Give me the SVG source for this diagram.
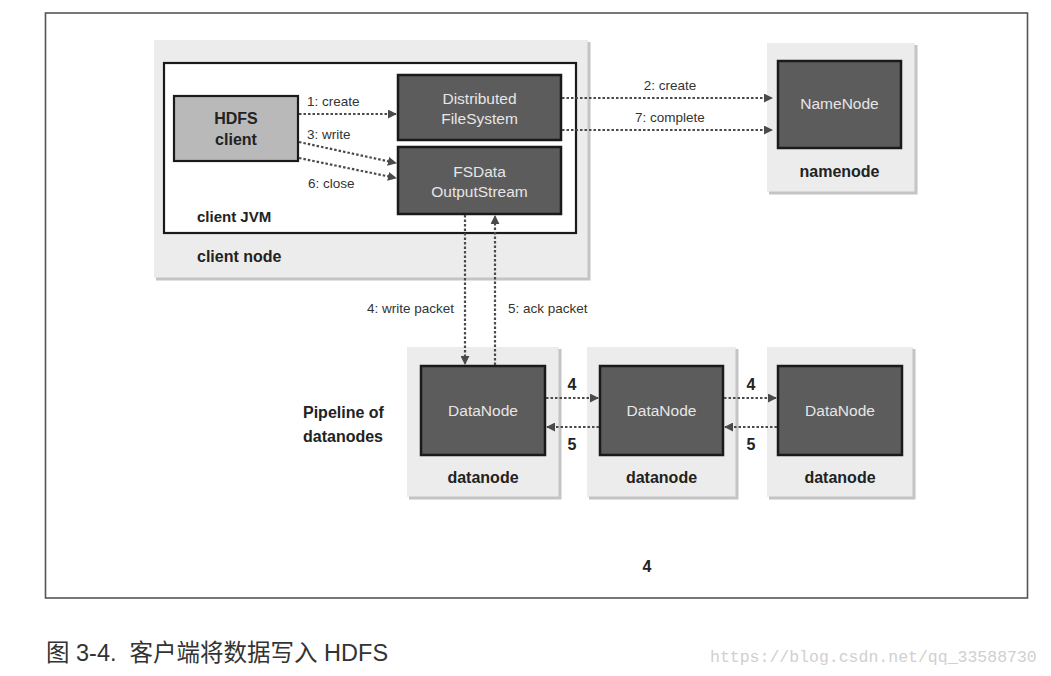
<svg xmlns="http://www.w3.org/2000/svg" width="1051" height="676" viewBox="0 0 1051 676">
<style>
.bg{fill:#ececec;stroke:none}
.sh{fill:none;stroke:#c4c4c4;stroke-width:3}
.dark{fill:#5c5c5c;stroke:#1a1a1a;stroke-width:2.5}
.wt{font-family:"Liberation Sans",Arial,sans-serif;font-size:15.5px;fill:#e6e6e6;text-anchor:middle}
.lb{font-family:"Liberation Sans",Arial,sans-serif;font-size:16px;fill:#222;font-weight:bold}
.lt{font-family:"Liberation Sans",Arial,sans-serif;font-size:13.5px;fill:#333}
.ln{fill:none;stroke:#4a4a4a;stroke-width:2.2;stroke-dasharray:2.5 2}
</style>
<defs>
<marker id="ah" viewBox="0 0 10 10" refX="9" refY="5" markerWidth="9" markerHeight="9" markerUnits="userSpaceOnUse" orient="auto">
<path d="M0,0 L10,5 L0,10 z" fill="#4a4a4a"/>
</marker>
</defs>
<rect x="0" y="0" width="1051" height="676" fill="#ffffff"/>
<rect x="45.5" y="13" width="982" height="585" fill="none" stroke="#555" stroke-width="1.6"/>

<g id="client-node">
<rect class="bg" x="154" y="40" width="434" height="238"/>
<path class="sh" d="M589,42 V279 H156"/>
<rect x="164" y="63" width="412" height="170" fill="#fff" stroke="#1a1a1a" stroke-width="2.2"/>
<text class="lb" x="197" y="222" style="font-size:15px">client JVM</text>
<text class="lb" x="197" y="262">client node</text>
</g>

<g id="hdfs-client">
<rect x="174" y="96" width="124" height="65" fill="#b9b9b9" stroke="#1a1a1a" stroke-width="2.2"/>
<text class="lb" x="236" y="124" text-anchor="middle">HDFS</text>
<text class="lb" x="236" y="145" text-anchor="middle">client</text>
</g>

<g id="distributed-filesystem">
<rect class="dark" x="398" y="75" width="163" height="65"/>
<text class="wt" x="479.5" y="104">Distributed</text>
<text class="wt" x="479.5" y="124">FileSystem</text>
</g>

<g id="fsdata-outputstream">
<rect class="dark" x="398" y="147" width="163" height="67"/>
<text class="wt" x="479.5" y="177">FSData</text>
<text class="wt" x="479.5" y="197">OutputStream</text>
</g>

<g id="namenode">
<rect class="bg" x="767" y="43" width="148" height="149"/>
<path class="sh" d="M916,45 V193 H769"/>
<rect class="dark" x="778" y="61" width="123" height="87"/>
<text class="wt" x="839.5" y="109">NameNode</text>
<text class="lb" x="839.5" y="177" text-anchor="middle">namenode</text>
</g>

<g id="datanode-1">
<rect class="bg" x="407" y="347" width="152" height="150"/>
<path class="sh" d="M560,349 V498 H409"/>
<rect class="dark" x="421" y="366" width="124" height="89"/>
<text class="wt" x="483" y="416">DataNode</text>
<text class="lb" x="483" y="483" text-anchor="middle">datanode</text>
</g>

<g id="datanode-2">
<rect class="bg" x="587" y="347" width="149" height="150"/>
<path class="sh" d="M737,349 V498 H589"/>
<rect class="dark" x="600" y="366" width="123" height="89"/>
<text class="wt" x="661.5" y="416">DataNode</text>
<text class="lb" x="661.5" y="483" text-anchor="middle">datanode</text>
</g>

<g id="datanode-3">
<rect class="bg" x="767" y="347" width="146" height="150"/>
<path class="sh" d="M914,349 V498 H769"/>
<rect class="dark" x="778" y="366" width="124" height="89"/>
<text class="wt" x="840" y="416">DataNode</text>
<text class="lb" x="840" y="483" text-anchor="middle">datanode</text>
</g>

<g id="connectors">
<line class="ln" x1="299" y1="114" x2="396" y2="114" marker-end="url(#ah)"/>
<line class="ln" x1="299" y1="142" x2="396" y2="163" marker-end="url(#ah)"/>
<line class="ln" x1="299" y1="158" x2="396" y2="178" marker-end="url(#ah)"/>
<line class="ln" x1="562" y1="98" x2="772" y2="98" marker-end="url(#ah)"/>
<line class="ln" x1="562" y1="130" x2="772" y2="130" marker-end="url(#ah)"/>
<line class="ln" x1="465" y1="215" x2="465" y2="364" marker-end="url(#ah)"/>
<line class="ln" x1="495" y1="365" x2="495" y2="216" marker-end="url(#ah)"/>
<line class="ln" x1="546" y1="398" x2="598" y2="398" marker-end="url(#ah)"/>
<line class="ln" x1="599" y1="427" x2="547" y2="427" marker-end="url(#ah)"/>
<line class="ln" x1="724" y1="398" x2="776" y2="398" marker-end="url(#ah)"/>
<line class="ln" x1="777" y1="427" x2="725" y2="427" marker-end="url(#ah)"/>
<text class="lt" x="307" y="106">1: create</text>
<text class="lt" x="307" y="139">3: write</text>
<text class="lt" x="308" y="188">6: close</text>
<text class="lt" x="670" y="90" text-anchor="middle">2: create</text>
<text class="lt" x="670" y="122" text-anchor="middle">7: complete</text>
<text class="lt" x="454" y="313" text-anchor="end">4: write packet</text>
<text class="lt" x="508" y="313">5: ack packet</text>
<text class="lb" x="572" y="390" text-anchor="middle">4</text>
<text class="lb" x="572" y="450" text-anchor="middle">5</text>
<text class="lb" x="751" y="390" text-anchor="middle">4</text>
<text class="lb" x="751" y="450" text-anchor="middle">5</text>
</g>

<text class="lb" x="303" y="418">Pipeline of</text>
<text class="lb" x="303" y="442">datanodes</text>
<text class="lb" x="647" y="572" text-anchor="middle">4</text>

<text x="46" y="661" font-family="'Liberation Sans','Noto Sans CJK SC',sans-serif" font-size="23.5" fill="#333" xml:space="preserve">图 3-4.  客户端将数据写入 HDFS</text>
<text x="710" y="662" font-family="'Liberation Mono','DejaVu Sans Mono',monospace" font-size="16.5" fill="#d0d0d0">https://blog.csdn.net/qq_33588730</text>
</svg>
